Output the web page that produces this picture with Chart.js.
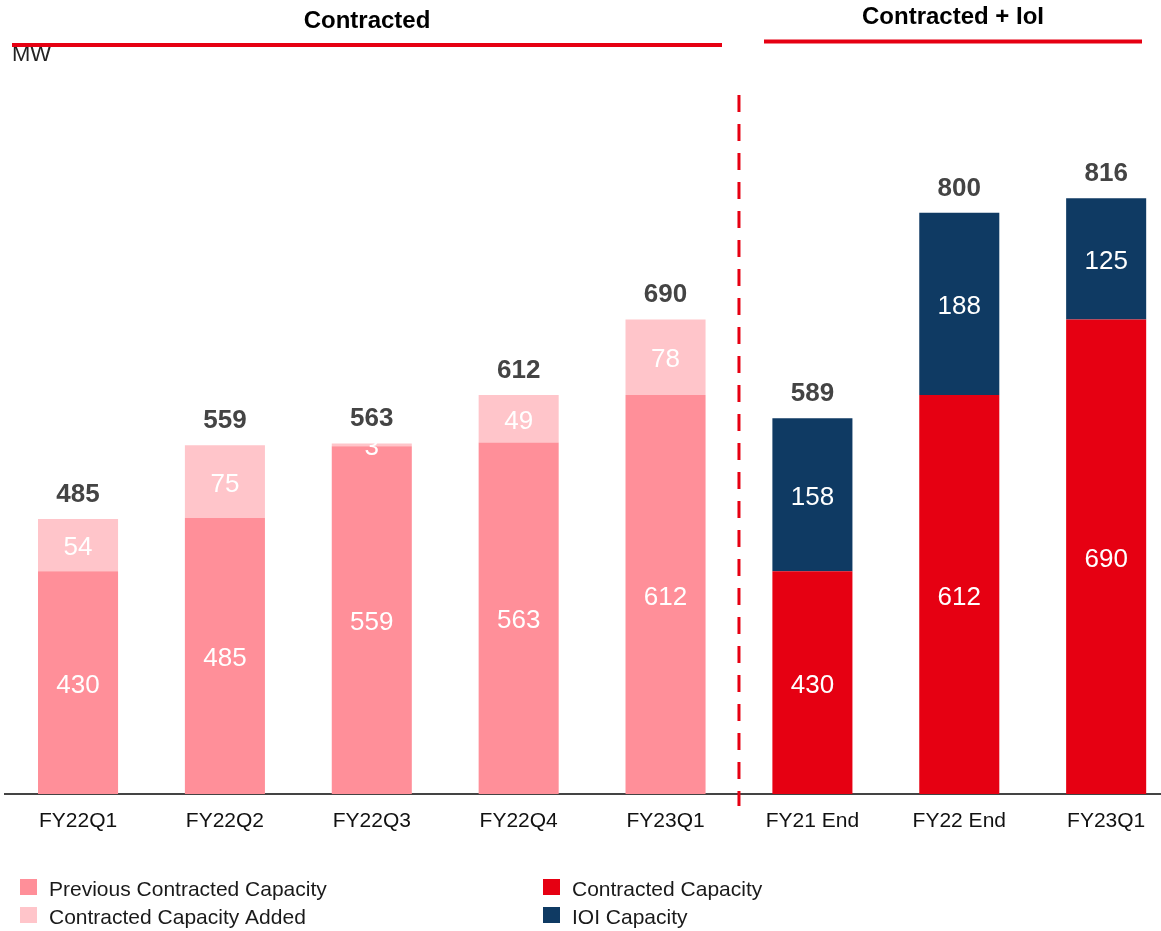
<!DOCTYPE html>
<html>
<head>
<meta charset="utf-8">
<title>Contracted capacity (MW)</title>
<script src="https://cdn.jsdelivr.net/npm/chart.js@4/dist/chart.umd.min.js"></script>
<style>
  html, body { margin: 0; padding: 0; background: #fff; overflow: hidden; }
  #wrap { width: 1185px; height: 931px; }
</style>
</head>
<body>
<div id="wrap"><canvas id="capchart" width="1185" height="931"></canvas></div>
<script>
// Periods along the x axis
const categories = ['FY22Q1', 'FY22Q2', 'FY22Q3', 'FY22Q4', 'FY23Q1', 'FY21 End', 'FY22 End', 'FY23Q1'];

// MW per series (null where the series has no bar)
const previousContracted = [430, 485, 559, 563, 612, null, null, null];
const contractedAdded    = [54, 75, 3, 49, 78, null, null, null];
const contractedCapacity = [null, null, null, null, null, 430, 612, 690];
const ioiCapacity        = [null, null, null, null, null, 158, 188, 125];

// Stack totals printed above each bar
const totals = [485, 559, 563, 612, 690, 589, 800, 816];

// Headings and unit
const groupTitles = ['Contracted', 'Contracted + IoI'];
const unitLabel = 'MW';

const FONT = '"Liberation Sans", Arial, Helvetica, sans-serif';
const RED = '#E60012';

const decorations = {
  id: 'decorations',
  beforeDraw(chart) {
    const ctx = chart.ctx;
    ctx.save();
    ctx.textBaseline = 'alphabetic';
    // unit label sits partly under the red rule
    ctx.fillStyle = '#222';
    ctx.font = `22px ${FONT}`;
    ctx.textAlign = 'left';
    ctx.fillText(unitLabel, 12, 61);
    // group headings
    ctx.fillStyle = '#000';
    ctx.font = `bold 24px ${FONT}`;
    ctx.textAlign = 'center';
    ctx.fillText(groupTitles[0], 367, 28);
    ctx.fillText(groupTitles[1], 953, 24);
    // red rules under the headings
    ctx.fillStyle = RED;
    ctx.fillRect(12, 43, 710, 4);
    ctx.fillRect(764, 39.5, 378, 4);
    ctx.restore();
  },
  afterDatasetsDraw(chart) {
    const ctx = chart.ctx;
    const bottom = chart.chartArea.bottom;
    const tops = [];
    ctx.save();
    ctx.textAlign = 'center';
    ctx.textBaseline = 'middle';
    ctx.fillStyle = '#fff';
    ctx.font = `26px ${FONT}`;
    chart.data.datasets.forEach((ds, di) => {
      const meta = chart.getDatasetMeta(di);
      meta.data.forEach((bar, i) => {
        const v = ds.data[i];
        if (v === null) return;
        const {x, y, base} = bar.getProps(['x', 'y', 'base'], true);
        const b = Math.min(base, bottom);
        ctx.fillText(String(v), x, (y + b) / 2 + 3);
        tops[i] = tops[i] === undefined ? {x, y} : {x, y: Math.min(tops[i].y, y)};
      });
    });
    // totals above each stack
    ctx.fillStyle = '#444';
    ctx.font = `bold 26px ${FONT}`;
    ctx.textBaseline = 'alphabetic';
    tops.forEach((t, i) => {
      if (t) ctx.fillText(String(totals[i]), t.x, t.y - 17);
    });
    ctx.restore();
  },
  afterDraw(chart) {
    const ctx = chart.ctx;
    const xs = chart.scales.x;
    ctx.save();
    // dashed divider between the two groups
    const dx = (xs.getPixelForValue(4) + xs.getPixelForValue(5)) / 2;
    ctx.strokeStyle = RED;
    ctx.lineWidth = 3;
    ctx.setLineDash([17, 12]);
    ctx.beginPath();
    ctx.moveTo(dx, 95);
    ctx.lineTo(dx, 806);
    ctx.stroke();
    ctx.setLineDash([]);

    // two-column legend
    const slots = [[20, 879], [20, 907], [543, 879], [543, 907]];
    ctx.font = `21px ${FONT}`;
    ctx.textAlign = 'left';
    ctx.textBaseline = 'alphabetic';
    chart.data.datasets.forEach((ds, di) => {
      const [lx, ly] = slots[di];
      ctx.fillStyle = ds.backgroundColor;
      ctx.fillRect(lx, ly, 17, 16);
      ctx.fillStyle = '#1a1a1a';
      ctx.fillText(ds.label, lx + 29, ly + 17);
    });
    ctx.restore();
  }
};

new Chart(document.getElementById('capchart'), {
  type: 'bar',
  data: {
    labels: categories,
    datasets: [
      { label: 'Previous Contracted Capacity', data: previousContracted, backgroundColor: '#FF8F99' },
      { label: 'Contracted Capacity Added', data: contractedAdded, backgroundColor: '#FFC5CA' },
      { label: 'Contracted Capacity', data: contractedCapacity, backgroundColor: RED },
      { label: 'IOI Capacity', data: ioiCapacity, backgroundColor: '#0F3A63' }
    ]
  },
  options: {
    responsive: false,
    animation: false,
    devicePixelRatio: 1,
    categoryPercentage: 1,
    barPercentage: 0.545,
    layout: { padding: { top: 116, left: 4.6, right: 5.4, bottom: 0 } },
    scales: {
      x: {
        stacked: true,
        grid: { display: false, drawTicks: false },
        border: { display: true, color: '#444', width: 2 },
        ticks: { color: '#111', font: { family: FONT, size: 21 }, padding: 15, maxRotation: 0, autoSkip: false },
        afterFit(scale) { scale.height = 137; }
      },
      y: {
        stacked: true,
        display: false,
        min: 200,
        max: 900
      }
    },
    plugins: {
      legend: { display: false },
      tooltip: { enabled: false }
    }
  },
  plugins: [decorations]
});
</script>
</body>
</html>
